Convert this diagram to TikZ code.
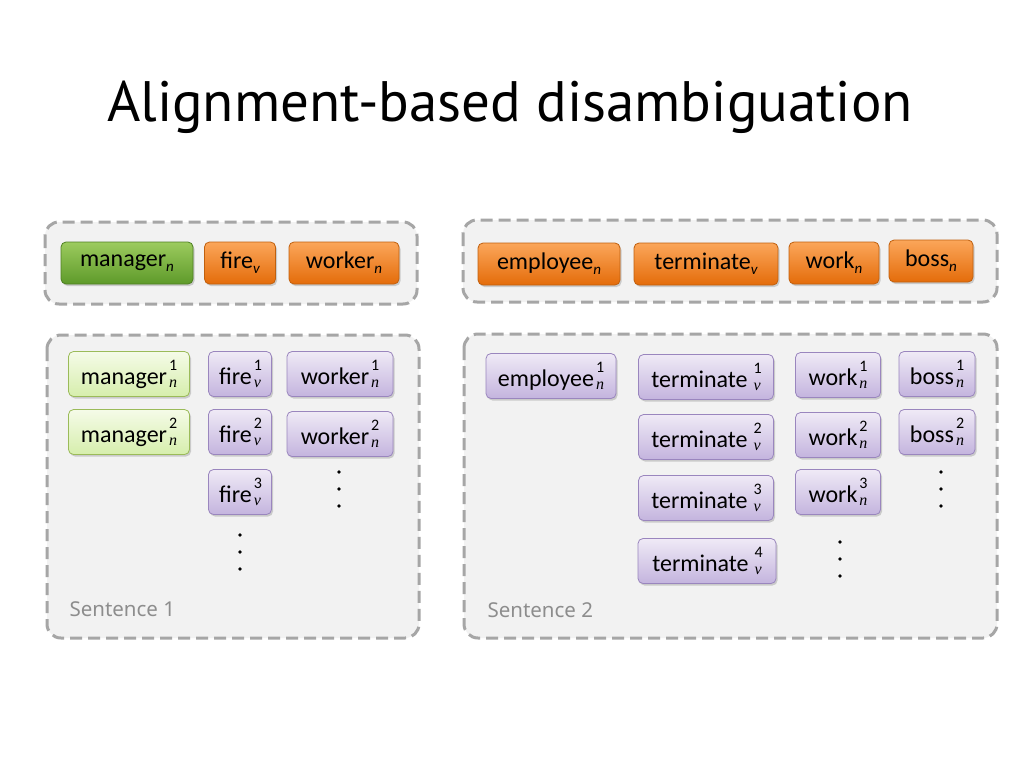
\documentclass[tikz,border=0pt]{standalone}
\usepackage{fontspec}
\setmainfont{Carlito}
\newfontfamily\titrefont{PT Sans}
\newfontfamily\phrasefont{Noto Sans}
\newfontfamily\indicefont{Liberation Serif}
\usetikzlibrary{shadows}

\definecolor{cadrefond}{HTML}{F2F2F2}
\definecolor{cadretrait}{HTML}{A6A6A6}
\definecolor{orhaut}{HTML}{FBA65A}
\definecolor{orbas}{HTML}{E46C0A}
\definecolor{orbord}{HTML}{C0600E}
\definecolor{vfhaut}{HTML}{9CCB5E}
\definecolor{vfbas}{HTML}{5E9A2A}
\definecolor{vfbord}{HTML}{4E7F22}
\definecolor{vchaut}{HTML}{F5FBE8}
\definecolor{vcbas}{HTML}{D6EEAC}
\definecolor{vcbord}{HTML}{9BBB59}
\definecolor{vihaut}{HTML}{EFEAF6}
\definecolor{vibas}{HTML}{C4B4DE}
\definecolor{vibord}{HTML}{9A86BE}

% mot avec sens : #1 mot, #2 numero, #3 categorie
\newcommand{\sens}[3]{#1\hspace{2pt}{\fontsize{16}{16}\selectfont\rlap{\raisebox{14pt}{#2}}\raisebox{-3pt}{\indicefont\itshape #3}}}
\newcommand{\cat}[2]{#1\raisebox{-5pt}{\fontsize{15}{15}\selectfont\itshape #2}}

\begin{document}
\begin{tikzpicture}[x=1pt, y=-1pt]
\tikzset{
  cadre/.style={draw=cadretrait, fill=cadrefond, line width=3pt, dash pattern=on 12pt off 6pt, rounded corners=14pt},
  mot/.style={rounded corners=5pt, line width=0.8pt, minimum height=42pt, inner xsep=4pt, font=\fontsize{24}{24}\selectfont,
    drop shadow={opacity=0.35, shadow xshift=1.5pt, shadow yshift=-2pt}},
  motorange/.style={mot, draw=orbord, top color=orhaut, bottom color=orbas},
  motvert/.style={mot, draw=vfbord, top color=vfhaut, bottom color=vfbas},
  sensvert/.style={mot, minimum height=45pt, draw=vcbord, top color=vchaut, bottom color=vcbas},
  sensviolet/.style={mot, minimum height=45pt, draw=vibord, top color=vihaut, bottom color=vibas},
  etiquette/.style={anchor=west, text=cadretrait!85!black, font=\phrasefont\fontsize{20.5}{20.5}\selectfont}
}
\fill[white] (0,0) rectangle (1024,768);
\useasboundingbox (0,0) rectangle (1024,768);

\node[anchor=base, font=\titrefont\fontsize{57}{57}\selectfont] (titre) at (510,121) {Alignment-based disambiguation};

% cadres
\draw[cadre] (45,222) rectangle (417,304);
\draw[cadre] (463,220) rectangle (997,302);
\draw[cadre] (47,335) rectangle (419,638);
\draw[cadre] (464,334) rectangle (997,638);

% phrase 1, en haut
\node[motvert, minimum width=132pt] (M) at (127,263) {\cat{manager}{n}};
\node[motorange, minimum width=71pt] (F) at (240,263) {\cat{fire}{v}};
\node[motorange, minimum width=110pt] (W) at (344,263) {\cat{worker}{n}};

% phrase 2, en haut
\node[motorange, minimum width=142pt] (E) at (549,264) {\cat{employee}{n}};
\node[motorange, minimum width=144pt] (T) at (706,264) {\cat{terminate}{v}};
\node[motorange, minimum width=90pt] (K) at (834,263) {\cat{work}{n}};
\node[motorange, minimum width=84pt] (B) at (931,261) {\cat{boss}{n}};

% sens, phrase 1
\node[sensvert, minimum width=121pt] (M1) at (129,374) {\sens{manager}{1}{n}};
\node[sensvert, minimum width=121pt] (M2) at (129,432) {\sens{manager}{2}{n}};
\node[sensviolet, minimum width=63pt] (F1) at (240,374) {\sens{fire}{1}{v}};
\node[sensviolet, minimum width=63pt] (F2) at (240,432) {\sens{fire}{2}{v}};
\node[sensviolet, minimum width=63pt] (F3) at (240,492) {\sens{fire}{3}{v}};
\node[sensviolet, minimum width=106pt] (W1) at (340,374) {\sens{worker}{1}{n}};
\node[sensviolet, minimum width=106pt] (W2) at (340,434) {\sens{worker}{2}{n}};
\node[etiquette] (S1) at (66,609) {Sentence 1};

% sens, phrase 2
\node[sensviolet, minimum width=130pt] (E1) at (551,376) {\sens{employee}{1}{n}};
\node[sensviolet, minimum width=135pt] (T1) at (706,377) {\sens{terminate\,}{1}{v}};
\node[sensviolet, minimum width=135pt] (T2) at (706,437) {\sens{terminate\,}{2}{v}};
\node[sensviolet, minimum width=135pt] (T3) at (706,498) {\sens{terminate\,}{3}{v}};
\node[sensviolet, minimum width=138pt] (T4) at (707,561) {\sens{terminate\,}{4}{v}};
\node[sensviolet, minimum width=85pt] (K1) at (838,375) {\sens{work}{1}{n}};
\node[sensviolet, minimum width=85pt] (K2) at (838,435) {\sens{work}{2}{n}};
\node[sensviolet, minimum width=85pt] (K3) at (838,492) {\sens{work}{3}{n}};
\node[sensviolet, minimum width=76pt] (B1) at (937,374) {\sens{boss}{1}{n}};
\node[sensviolet, minimum width=76pt] (B2) at (937,432) {\sens{boss}{2}{n}};
\node[etiquette] (S2) at (484,610) {Sentence 2};

% points de suite
\foreach \x/\y in {240/535, 339/472, 840/542, 941/472}
  \foreach \d in {0,17,34}
    \fill (\x,\y+\d) circle (1.8pt);
\end{tikzpicture}
\end{document}
